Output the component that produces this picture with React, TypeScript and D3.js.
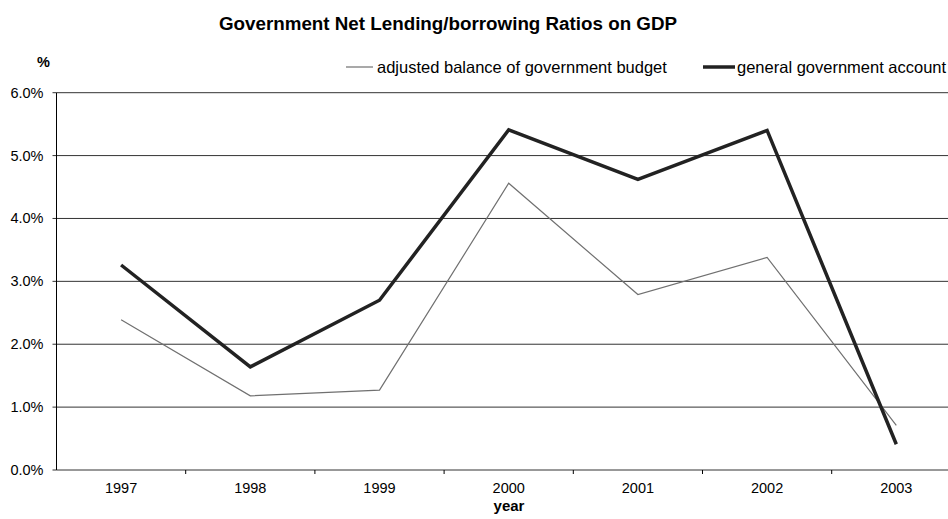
import React from "react";
import * as d3 from "d3";

const years = ["1997", "1998", "1999", "2000", "2001", "2002", "2003"];
const adjustedBalance = [2.39, 1.18, 1.27, 4.56, 2.79, 3.38, 0.71];
const generalAccount = [3.26, 1.64, 2.70, 5.41, 4.62, 5.40, 0.41];
const yTicks = [0, 1, 2, 3, 4, 5, 6];

const W = 948;
const H = 519;
const left = 56.5;
const bandW = 129.2;
const right = left + bandW * years.length;
const top = 92.7;
const bottom = 470;

export default function App() {
  const x = d3.scaleBand<string>().domain(years).range([left, right]);
  const y = d3.scaleLinear().domain([0, 6]).range([bottom, top]);
  const cx = (d: string) => (x(d) as number) + x.bandwidth() / 2;
  const line = (vals: number[]) =>
    d3.line<number>().x((_, i) => cx(years[i])).y((v) => y(v))(vals) as string;
  const font = "'Liberation Sans', Arial, sans-serif";

  return (
    <svg width={W} height={H} style={{ position: "absolute", left: 0, top: 0 }} fontFamily={font}>
      <rect width={W} height={H} fill="#fff" />
      <text x={448} y={30} textAnchor="middle" fontSize={18.8} fontWeight="bold">
        Government Net Lending/borrowing Ratios on GDP
      </text>
      <text x={43.5} y={67} textAnchor="middle" fontSize={14.5} fontWeight="bold">%</text>
      {yTicks.map((t) => (
        <g key={t}>
          <line x1={left} x2={W} y1={y(t)} y2={y(t)} stroke="#333" strokeWidth={1} />
          <line x1={left - 4} x2={left} y1={y(t)} y2={y(t)} stroke="#333" />
          <text x={43.5} y={y(t) + 5} textAnchor="end" fontSize={14.5}>
            {t.toFixed(1)}%
          </text>
        </g>
      ))}
      <line x1={left} x2={left} y1={top} y2={bottom} stroke="#000" />
      {years.map((yr, i) => (
        <g key={yr}>
          <line x1={left + bandW * (i + 1)} x2={left + bandW * (i + 1)} y1={bottom} y2={bottom + 4} stroke="#000" />
          <text x={cx(yr)} y={493} textAnchor="middle" fontSize={14.5}>{yr}</text>
        </g>
      ))}
      <text x={509} y={511} textAnchor="middle" fontSize={15} fontWeight="bold">year</text>
      <path d={line(adjustedBalance)} fill="none" stroke="#707070" strokeWidth={1.2} />
      <path d={line(generalAccount)} fill="none" stroke="#222" strokeWidth={3.5} />
      <line x1={346} x2={373} y1={67} y2={67} stroke="#707070" strokeWidth={1.2} />
      <text x={377} y={73} fontSize={16.5}>adjusted balance of government budget</text>
      <line x1={703} x2={735} y1={67} y2={67} stroke="#222" strokeWidth={3.5} />
      <text x={737} y={73} fontSize={16.5}>general government account</text>
    </svg>
  );
}
